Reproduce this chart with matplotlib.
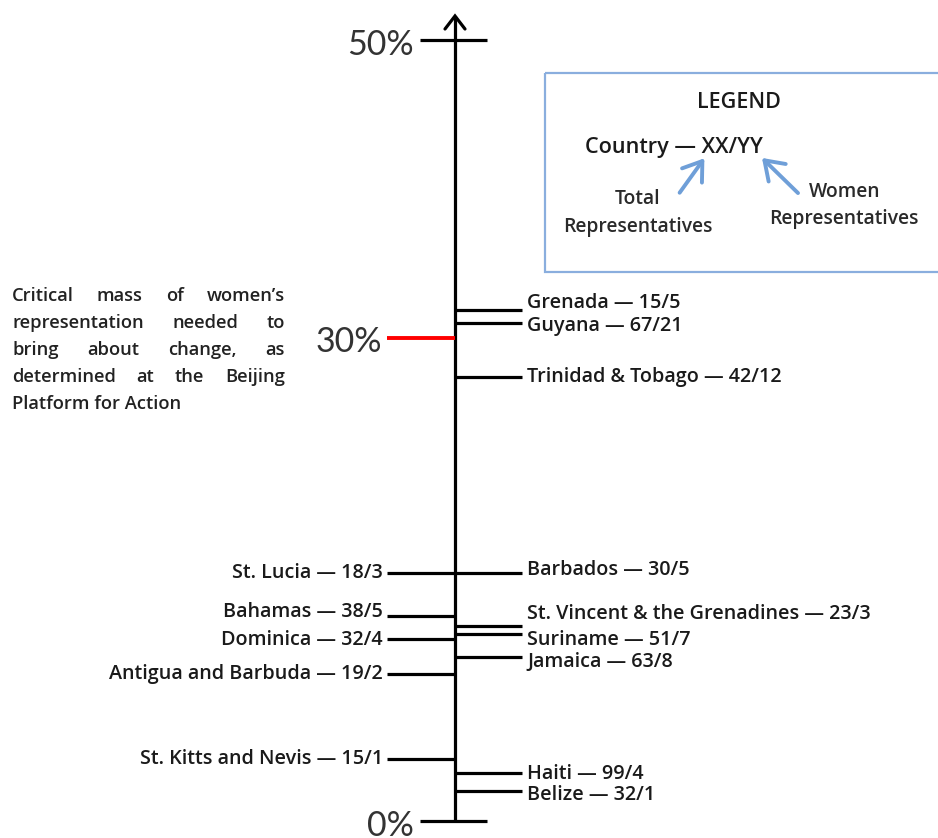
import matplotlib
matplotlib.use("Agg")
import matplotlib.pyplot as plt
from matplotlib.patches import Rectangle, FancyArrowPatch

# ---------------- data ----------------
left_countries = ["St. Lucia", "Bahamas", "Dominica", "Antigua and Barbuda", "St. Kitts and Nevis"]
left_total = [18, 38, 32, 19, 15]
left_women = [3, 5, 4, 2, 1]
left_pct = [15.9, 13.1, 11.65, 9.4, 4.0]

right_countries = ["Grenada", "Guyana", "Trinidad & Tobago", "Barbados",
                   "St. Vincent & the Grenadines", "Suriname", "Jamaica", "Haiti", "Belize"]
right_total = [15, 67, 42, 30, 23, 51, 63, 99, 32]
right_women = [5, 21, 12, 5, 3, 7, 8, 4, 1]
right_pct = [32.7, 31.9, 28.4, 15.9, 12.5, 12.0, 10.5, 3.1, 1.9]

threshold_pct = 30.9          # where the 30% marker is drawn
threshold_label = "30%"
axis_ticks = [0, 50]
axis_tick_labels = ["0%", "50%"]

note_lines = ["Critical mass of women\u2019s",
              "representation needed to",
              "bring about change, as",
              "determined at the Beijing",
              "Platform for Action"]

# ---------------- layout ----------------
W, H = 938, 838
Y0, PXPER = 821.0, 15.62
AX_X = 455
FONT = "Open Sans"
PCT_FONT = "Lato"
WT = "semibold"
LBL_COLOR = "#1a1a1a"

fig = plt.figure(figsize=(W / 100, H / 100), dpi=100)
ax = fig.add_axes([0, 0, 1, 1])
ax.set_xlim(0, W)
ax.set_ylim((Y0 - H) / PXPER, Y0 / PXPER)
ax.axis("off")

ov = fig.add_axes([0, 0, 1, 1])
ov.set_xlim(0, W)
ov.set_ylim(H, 0)
ov.axis("off")

LW = 2.3

def pct_of(ypx):
    return (Y0 - ypx) / PXPER

# main axis with arrow head
ax.plot([AX_X, AX_X], [0, pct_of(16)], color="black", lw=LW, solid_capstyle="butt", zorder=3)
ax.plot([AX_X - 10, AX_X, AX_X + 10], [pct_of(29), pct_of(16), pct_of(29)],
        color="black", lw=LW, solid_capstyle="round", solid_joinstyle="miter", zorder=3)

# 0% / 50% ticks
ax.hlines(axis_ticks, AX_X - 35, AX_X + 32, color="black", lw=LW, zorder=3)
for v, lab in zip(axis_ticks, axis_tick_labels):
    ax.annotate(lab, xy=(414, v), xytext=(0, -5), textcoords="offset pixels",
                ha="right", va="center", fontsize=24.5, family=PCT_FONT, color="#333333")

# 30% marker
ax.hlines([threshold_pct], 387, AX_X, color="#ff0000", lw=2.8, zorder=4)
ax.annotate(threshold_label, xy=(382, threshold_pct), xytext=(0, -4), textcoords="offset pixels",
            ha="right", va="center", fontsize=24.5, family=PCT_FONT, color="#333333")

# country ticks
ax.hlines(left_pct, 387, AX_X, color="black", lw=LW, zorder=3)
ax.hlines(right_pct, AX_X, 522, color="black", lw=LW, zorder=3)

left_dy = [0, 4, -1, 0, 0]
right_dy = [7, -3, 0, 3, 12, -6, -5, -1, -4]

LFS = 14.2
for c, t, w, v, d in zip(left_countries, left_total, left_women, left_pct, left_dy):
    ax.annotate(f"{c} \u2014 {t}/{w}", xy=(383, v), xytext=(0, d), textcoords="offset pixels",
                ha="right", va="center", fontsize=LFS, family=FONT, weight=WT, color=LBL_COLOR)
for c, t, w, v, d in zip(right_countries, right_total, right_women, right_pct, right_dy):
    ax.annotate(f"{c} \u2014 {t}/{w}", xy=(527, v), xytext=(0, d), textcoords="offset pixels",
                ha="left", va="center", fontsize=LFS, family=FONT, weight=WT, color=LBL_COLOR)

# legend box
ov.add_patch(Rectangle((545, 73), 420, 199, fill=False, edgecolor="#8aaede", lw=1.6, clip_on=False))
ov.text(739, 103, "LEGEND", ha="center", va="center", fontsize=15.5, family=FONT, weight=WT, color=LBL_COLOR)
ov.text(585, 147, "Country \u2014 XX/YY", ha="left", va="center", fontsize=15.6, family=FONT, weight=WT, color=LBL_COLOR)
ov.text(638, 199, "Total", ha="center", va="center", fontsize=13.9, family=FONT, weight=WT, color="#2a2a2a")
ov.text(638, 227, "Representatives", ha="center", va="center", fontsize=13.9, family=FONT, weight=WT, color="#2a2a2a")
ov.text(845, 192, "Women", ha="center", va="center", fontsize=13.9, family=FONT, weight=WT, color="#2a2a2a")
ov.text(844, 219, "Representatives", ha="center", va="center", fontsize=13.9, family=FONT, weight=WT, color="#2a2a2a")
for (x0, y0), (x1, y1) in [((678, 195), (706, 156)), ((800, 195), (760, 156))]:
    ov.add_patch(FancyArrowPatch((x0, y0), (x1, y1), arrowstyle="->,head_length=8,head_width=5.5",
                                 color="#6f9fd8", lw=2.8, mutation_scale=1.6))

# justified note paragraph
renderer = fig.canvas.get_renderer()
nx0, nx1, ny0, ndy = 12, 285, 296, 27
for i, line in enumerate(note_lines):
    y = ny0 + i * ndy
    kw = dict(va="center", fontsize=13.2, family=FONT, weight=WT, color="#222222")
    if i == len(note_lines) - 1:
        ov.text(nx0, y, line, ha="left", **kw)
        continue
    words = line.split()
    texts = [ov.text(0, y, wd, ha="left", **kw) for wd in words]
    widths = [t.get_window_extent(renderer).width for t in texts]
    gap = (nx1 - nx0 - sum(widths)) / (len(words) - 1)
    x = nx0
    for t, wdt in zip(texts, widths):
        t.set_x(x)
        x += wdt + gap

fig.savefig("out.png", dpi=100)
